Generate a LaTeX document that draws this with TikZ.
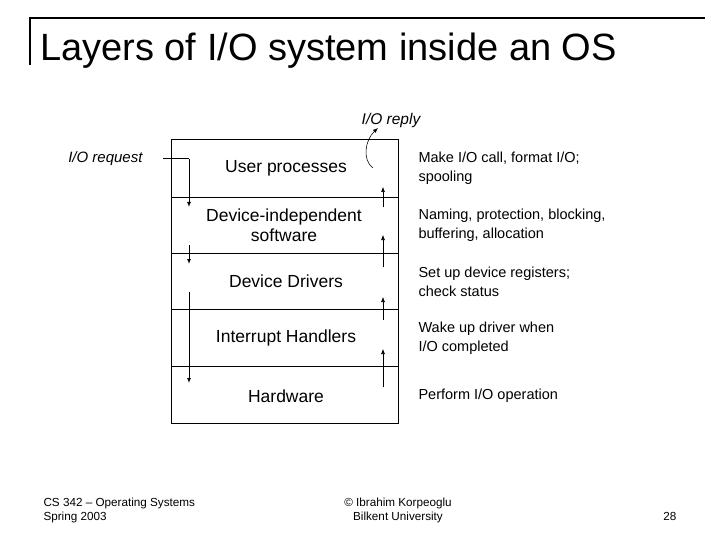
\documentclass[tikz,border=0pt]{standalone}
\usepackage{fontspec}
\setmainfont{Liberation Sans}
\usetikzlibrary{arrows.meta}
\begin{document}
\begin{tikzpicture}[x=1pt,y=-1pt,
 lay/.style={font=\fontsize{17.5}{20}\selectfont,align=center},
 note/.style={font=\fontsize{14.5}{19}\selectfont,align=left,anchor=west},
 arr/.style={-{Latex[length=5pt,width=4pt]},line width=1pt},
 uarr/.style={-{Latex[length=5pt,width=4pt]},line width=0.6pt}]
\useasboundingbox (0,0) rectangle (720,540);
\draw[line width=1.2pt] (30,65) -- (30,18) -- (705,18);
\node[anchor=base west,font=\fontsize{38}{42}\selectfont,inner sep=0pt] (title) at (40,61) {Layers of I/O system inside an OS};
\draw (171,139) rectangle (398,423);
\foreach \y in {197,253,309,366} \draw (171,\y) -- (398,\y);
\node[lay] (l1) at (286,168) {User processes};
\node[lay] (l2) at (284,225) {Device-independent\\software};
\node[lay] (l3) at (286,281) {Device Drivers};
\node[lay] (l4) at (286,338) {Interrupt Handlers};
\node[lay] (l5) at (286,396) {Hardware};
\node[font=\itshape\fontsize{15}{17}\selectfont,anchor=east] (req) at (146,159) {I/O request};
\node[font=\itshape\fontsize{15.5}{17}\selectfont] (rep) at (391,120) {I/O reply};
\coordinate (r0) at (163,159);
\coordinate (r1) at (189,159);
\coordinate (d1) at (189,207);
\draw[line width=1pt] (r0) -- (r1);
\draw[arr] (r1) -- (d1);
\coordinate (a1) at (189,245); \coordinate (b1) at (189,264);
\coordinate (a2) at (189,292); \coordinate (b2) at (189,383);
\draw[arr] (a1) -- (b1);
\draw[arr] (a2) -- (b2);
\foreach \s/\e [count=\i] in {207/187,267/235,320/297,387/349} {
 \coordinate (us\i) at (383,\s); \coordinate (ue\i) at (383,\e);
 \draw[uarr] (us\i) -- (ue\i);}
\coordinate (c0) at (373,168);
\coordinate (c1) at (378,128);
\draw[uarr] (c0) .. controls (362,160) and (365,140) .. (c1);
\node[note] (n1) at (415,168) {Make I/O call, format I/O;\\spooling};
\node[note] (n2) at (415,225) {Naming, protection, blocking,\\buffering, allocation};
\node[note] (n3) at (415,282) {Set up device registers;\\check status};
\node[note] (n4) at (415,338) {Wake up driver when\\I/O completed};
\node[note] (n5) at (415,396) {Perform I/O operation};
\node[anchor=west,align=left,font=\fontsize{11.7}{14}\selectfont] (f1) at (40,510) {CS 342 -- Operating Systems\\Spring 2003};
\node[align=center,font=\fontsize{11.7}{14}\selectfont] (f2) at (398,510) {\textcopyright{} Ibrahim Korpeoglu\\Bilkent University};
\node[anchor=east,font=\fontsize{11.7}{14}\selectfont] (f3) at (680,516) {28};
\end{tikzpicture}
\end{document}
